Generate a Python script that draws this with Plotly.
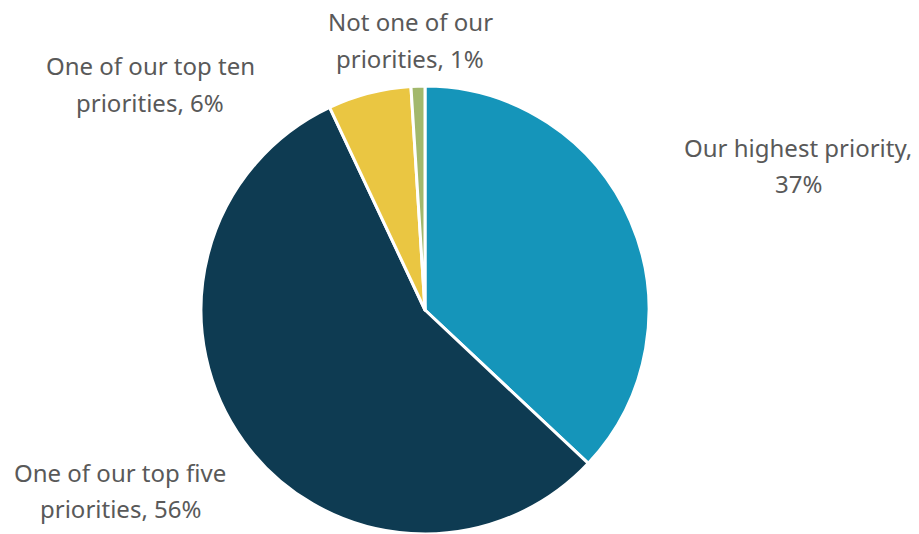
import plotly.graph_objects as go

labels = ["Our highest priority", "One of our top five priorities",
          "One of our top ten priorities", "Not one of our priorities"]
values = [37, 56, 6, 1]
colors = ["#1595BA", "#0E3B52", "#EAC642", "#A2B86C"]
label_lines = [("Our highest priority,", "37%"), ("One of our top five", "priorities, 56%"),
               ("One of our top ten", "priorities, 6%"), ("Not one of our", "priorities, 1%")]
label_pos = [(798, 147), (120, 472), (150, 66), (410, 22)]
line_gap = 36

W, H = 919, 534
fig = go.Figure(go.Pie(
    labels=labels, values=values, sort=False, direction="clockwise", rotation=0,
    marker=dict(colors=colors, line=dict(color="white", width=3)),
    textinfo="none", hoverinfo="label+percent", showlegend=False,
    domain=dict(x=[200 / W, 650 / W], y=[0, 448 / H]),
))
for lines, (x, y) in zip(label_lines, label_pos):
    for i, t in enumerate(lines):
        fig.add_annotation(x=x / W, y=1 - (y + i * line_gap) / H, xref="paper", yref="paper",
                           text=t, showarrow=False, xanchor="center", yanchor="middle",
                           font=dict(family="Noto Sans", size=24, color="#595959"))
fig.update_layout(width=W, height=H, margin=dict(l=0, r=0, t=0, b=0),
                  paper_bgcolor="white", plot_bgcolor="white")
fig.write_html("out.html")
